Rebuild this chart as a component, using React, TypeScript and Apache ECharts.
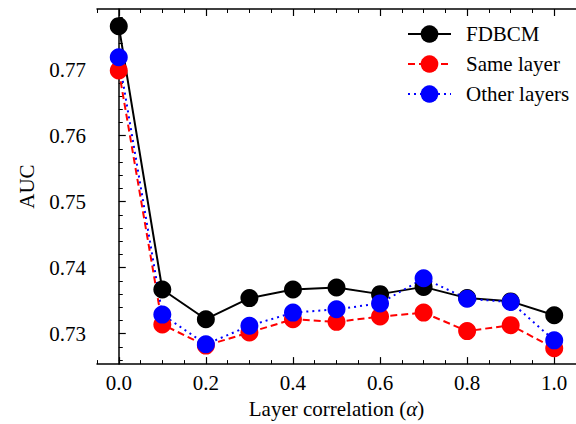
import React, { useEffect, useRef } from "react";
import * as echarts from "echarts";

const alphas = [0.0, 0.1, 0.2, 0.3, 0.4, 0.5, 0.6, 0.7, 0.8, 0.9, 1.0];
const fdbcm = [0.7766, 0.7367, 0.7322, 0.7354, 0.7367, 0.737, 0.736, 0.7371, 0.7354, 0.7349, 0.7328];
const sameLayer = [0.7699, 0.7314, 0.7282, 0.7302, 0.7322, 0.7318, 0.7326, 0.7332, 0.7304, 0.7313, 0.7278];
const otherLayers = [0.7719, 0.7329, 0.7284, 0.7312, 0.7332, 0.7337, 0.7346, 0.7384, 0.7353, 0.7348, 0.729];

const xTickLabels = [0.0, 0.2, 0.4, 0.6, 0.8, 1.0];
const xMinorTicks = [-0.05, 0.05, 0.1, 0.15, 0.25, 0.3, 0.35, 0.45, 0.5, 0.55, 0.65, 0.7, 0.75, 0.85, 0.9, 0.95, 1.05];
const yTickLabels = [0.73, 0.74, 0.75, 0.76, 0.77];
const yMinorTicks = [0.726, 0.728, 0.732, 0.734, 0.736, 0.738, 0.742, 0.744, 0.746, 0.748, 0.752, 0.754, 0.756, 0.758, 0.762, 0.764, 0.766, 0.768, 0.772, 0.774, 0.776, 0.778];

const FONT = "Liberation Serif";
const FS = 21;
const X_MIN = -0.05, X_MAX = 1.05;
const Y_MIN = 0.7254, Y_MAX = 0.7792;

export default function App() {
  const ref = useRef<HTMLDivElement>(null);
  useEffect(() => {
    if (!ref.current) return;
    const chart = echarts.init(ref.current, undefined, { renderer: "svg" });
    const axisLine = { show: true, lineStyle: { color: "#000", width: 1.5 } };
    const baseX = (extra: any) => ({
      type: "value",
      min: X_MIN,
      max: X_MAX,
      splitLine: { show: false },
      ...extra,
    });
    const baseY = (extra: any) => ({
      type: "value",
      min: Y_MIN,
      max: Y_MAX,
      splitLine: { show: false },
      ...extra,
    });
    const majorTick = (vals: number[]) => ({ show: true, inside: true, length: 7, lineStyle: { color: "#000", width: 1.2 }, customValues: vals });
    const minorTick = (vals: number[]) => ({ show: true, inside: true, length: 4, lineStyle: { color: "#000", width: 1 }, customValues: vals });
    const mkSeries = (name: string, data: number[], color: string, type: any) => ({
      name,
      type: "line",
      data: alphas.map((a, i) => [a, data[i]]),
      symbol: "circle",
      symbolSize: 18,
      itemStyle: { color },
      lineStyle: { color, width: 2, type },
      xAxisIndex: 0,
      yAxisIndex: 0,
    });
    chart.setOption({
      animation: false,
      textStyle: { fontFamily: FONT, color: "#000" },
      grid: { left: 97, right: -7, top: 9, bottom: 56, containLabel: false },
      xAxis: [
        baseX({
          position: "bottom",
          axisLine,
          axisTick: majorTick(xTickLabels),
          axisLabel: {
            customValues: xTickLabels,
            formatter: (v: number) => v.toFixed(1),
            fontFamily: FONT,
            fontSize: FS,
            color: "#000",
            margin: 8,
          },
          name: "Layer correlation ({i|α})",
          nameLocation: "middle",
          nameGap: 22,
          nameTextStyle: {
            fontFamily: FONT,
            fontSize: FS,
            color: "#000",
            rich: { i: { fontFamily: FONT, fontStyle: "italic", fontSize: FS, color: "#000" } },
          },
        }),
        baseX({ position: "bottom", axisLine: { show: false }, axisTick: minorTick(xMinorTicks), axisLabel: { show: false } }),
        baseX({ position: "top", axisLine, axisTick: majorTick(xTickLabels), axisLabel: { show: false } }),
        baseX({ position: "top", axisLine: { show: false }, axisTick: minorTick(xMinorTicks), axisLabel: { show: false } }),
      ],
      yAxis: [
        baseY({
          position: "left",
          axisLine,
          axisTick: majorTick(yTickLabels),
          axisLabel: {
            customValues: yTickLabels,
            formatter: (v: number) => v.toFixed(2),
            fontFamily: FONT,
            fontSize: FS,
            color: "#000",
            margin: 11,
          },
          name: "AUC",
          nameLocation: "middle",
          nameGap: 60,
          nameTextStyle: { fontFamily: FONT, fontSize: FS, color: "#000" },
        }),
        baseY({ position: "left", axisLine: { show: false }, axisTick: minorTick(yMinorTicks), axisLabel: { show: false } }),
      ],
      legend: {
        left: 407,
        top: 23,
        orient: "vertical",
        padding: 0,
        itemWidth: 43,
        itemHeight: 22,
        itemGap: 8,
        textStyle: { fontFamily: FONT, fontSize: FS, lineHeight: 22, color: "#000", padding: [0, 0, 0, 10] },
        data: ["FDBCM", "Same layer", "Other layers"],
      },
      series: [
        mkSeries("FDBCM", fdbcm, "#000000", "solid"),
        mkSeries("Same layer", sameLayer, "#ff0000", [7, 4]),
        mkSeries("Other layers", otherLayers, "#0000ff", [2, 4]),
      ],
    });
    return () => chart.dispose();
  }, []);
  return (
    <div
      ref={ref}
      style={{ position: "absolute", left: 0, top: 0, width: 576, height: 424, background: "#fff" }}
    />
  );
}
